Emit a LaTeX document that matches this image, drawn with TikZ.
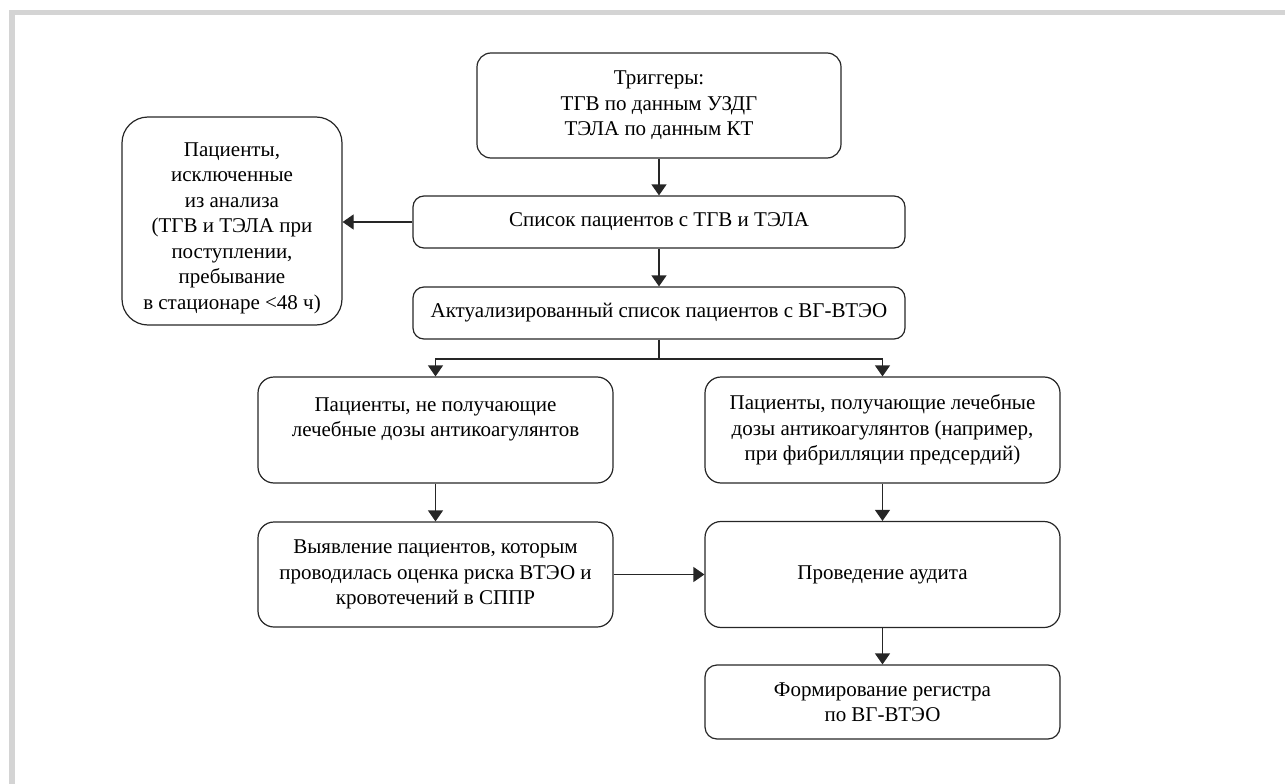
\documentclass[tikz,border=0pt]{standalone}
\usepackage{fontspec}
\setmainfont{Liberation Serif}
\usepackage{tikz}
\usetikzlibrary{arrows.meta}
\definecolor{framegray}{RGB}{212,212,212}
\tikzset{
    box/.style={draw=black!85,line width=1.2pt,rounded corners=14pt,align=center,inner sep=0pt,
        font=\fontsize{21}{25.5}\selectfont},
    arr/.style={draw=black!85,line width=1.2pt,-{Triangle[width=15pt,length=11pt]}},
    link/.style={draw=black!85,line width=1.2pt}
}
\begin{document}
\begin{tikzpicture}[x=1pt,y=-1pt]
                            \useasboundingbox (0,0) rectangle (1286,784);
                            \fill[framegray] (9,10) rectangle (15,784);
                            \fill[framegray] (9,10) rectangle (1285,15);
                            \node[box,minimum width=364pt,minimum height=105pt] (trig) at (659,105.5) {Триггеры:\\ТГВ по данным УЗДГ\\ТЭЛА по данным КТ};
                            \node[box,minimum width=492pt,minimum height=52pt,rounded corners=11pt] (list) at (659,222) {Список пациентов с ТГВ и ТЭЛА};
                            \node[box,minimum width=492pt,minimum height=52pt,rounded corners=11pt] (actual) at (659,313) {Актуализированный список пациентов с ВГ-ВТЭО};
                            \node[box,minimum width=220pt,minimum height=208pt,rounded corners=26pt] (excl) at (232,221) {\rule{0pt}{28pt}Пациенты,\\исключенные\\из анализа\\(ТГВ и ТЭЛА при\\поступлении,\\пребывание\\в стационаре <48 ч)};
                            \node[box,minimum width=355pt,minimum height=106pt,rounded corners=16pt] (nodose) at (435.5,430) {Пациенты, не получающие\\лечебные дозы антикоагулянтов\\ ~};
                            \node[box,minimum width=355pt,minimum height=106pt,rounded corners=16pt] (dose) at (882.5,430) {Пациенты, получающие лечебные\\дозы антикоагулянтов (например,\\при фибрилляции предсердий)};
                            \node[box,minimum width=355pt,minimum height=105pt,rounded corners=16pt] (detect) at (435.5,574.5) {Выявление пациентов, которым\\проводилась оценка риска ВТЭО и\\кровотечений в СППР};
                            \node[box,minimum width=355pt,minimum height=106pt,rounded corners=16pt] (audit) at (882.5,574.5) {Проведение аудита};
                            \node[box,minimum width=355pt,minimum height=74pt,rounded corners=12pt] (reg) at (882.5,702) {Формирование регистра\\по ВГ-ВТЭО};
                            \coordinate (split) at (659,359);
                            \draw[arr] (trig) -- (list);
                            \draw[arr] (list.west) -- (list.west -| excl.east);
                            \draw[arr] (list) -- (actual);
                            \draw[link] (actual) -- (split);
                            \draw[arr] (split) -| (nodose);
                            \draw[arr] (split) -| (dose);
                            \draw[arr] (nodose) -- (detect);
                            \draw[arr] (dose) -- (audit);
                            \draw[arr] (detect) -- (audit);
                            \draw[arr] (audit) -- (reg);
                        \end{tikzpicture}
\end{document}
